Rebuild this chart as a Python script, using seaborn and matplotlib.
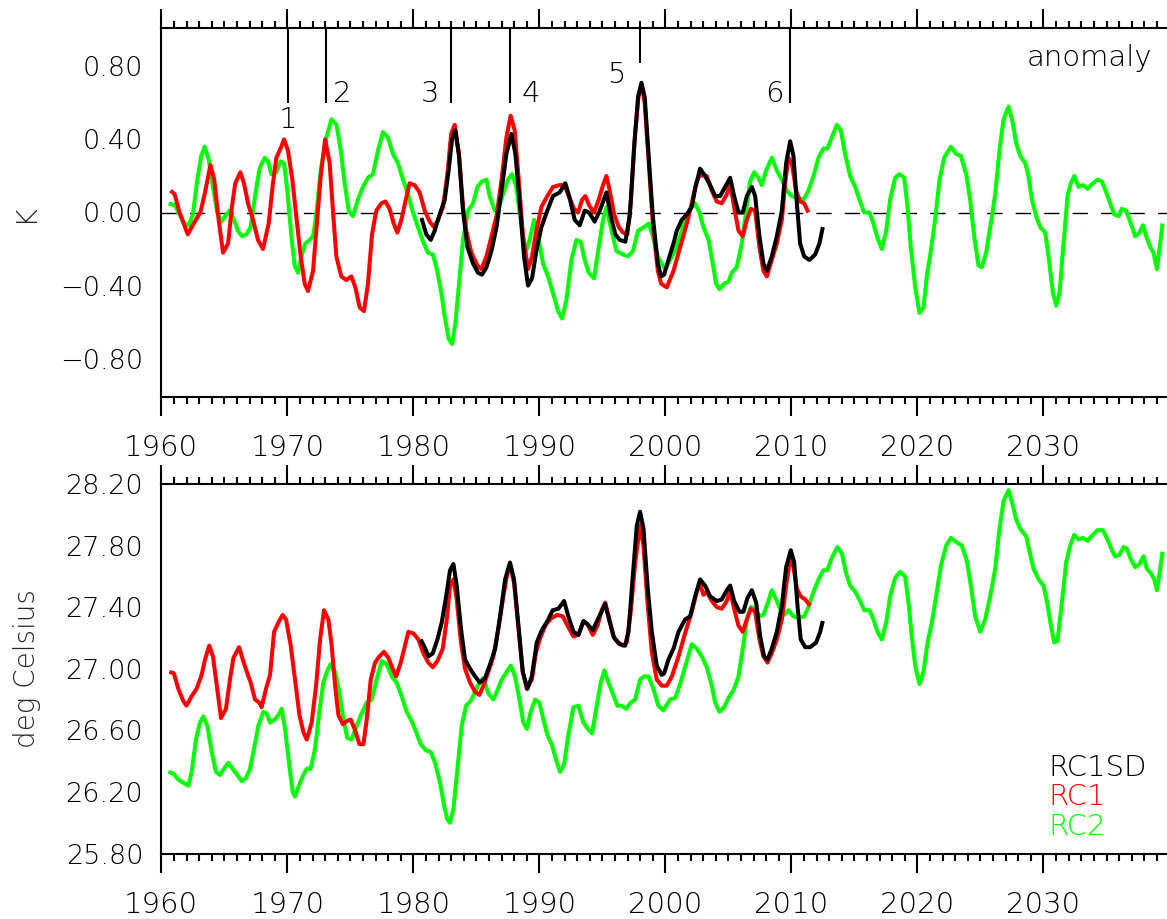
import matplotlib
matplotlib.use("Agg")
import matplotlib.pyplot as plt
import seaborn as sns
import pandas as pd
from matplotlib.ticker import MultipleLocator, FixedLocator, FuncFormatter

# ---------------- data ----------------
# Top panel: anomalies (K)
rc1_top_year = [
    1960.74, 1961.06, 1961.45, 1962.10, 1962.65, 1963.10, 1963.44, 1963.90, 1964.20, 1964.55,
    1964.90, 1965.30, 1965.60, 1965.87, 1966.27, 1966.56, 1966.88, 1967.28, 1967.67, 1968.07,
    1968.52, 1968.86, 1969.13, 1969.52, 1969.74, 1970.05, 1970.40, 1970.71, 1971.06, 1971.38,
    1971.64, 1972.04, 1972.30, 1972.65, 1973.00, 1973.36, 1973.62, 1973.89, 1974.28, 1974.68,
    1975.08, 1975.40, 1975.74, 1976.08, 1976.40, 1976.72, 1977.06, 1977.46, 1977.78, 1978.12,
    1978.44, 1978.73, 1979.05, 1979.40, 1979.70, 1980.10, 1980.50, 1980.90, 1981.30, 1981.64,
    1981.96, 1982.35, 1982.70, 1983.00, 1983.28, 1983.62, 1983.94, 1984.20, 1984.60, 1985.08,
    1985.40, 1985.80, 1986.20, 1986.60, 1987.00, 1987.38, 1987.72, 1988.04, 1988.36, 1988.70,
    1989.10, 1989.42, 1989.76, 1990.16, 1990.63, 1991.08, 1991.61, 1992.00, 1992.33, 1992.75,
    1993.07, 1993.39, 1993.65, 1993.94, 1994.34, 1994.71, 1995.05, 1995.32, 1995.58, 1995.93,
    1996.30, 1996.64, 1996.98, 1997.25, 1997.57, 1997.88, 1998.10, 1998.36, 1998.68, 1999.00,
    1999.40, 1999.66, 2000.11, 2000.64, 2001.17, 2001.70, 2002.09, 2002.44, 2002.75, 2003.02,
    2003.28, 2003.68, 2004.08, 2004.47, 2004.87, 2005.14, 2005.45, 2005.80, 2006.14, 2006.46,
    2006.78, 2007.12, 2007.46, 2007.78, 2008.05, 2008.44, 2008.84, 2009.24, 2009.50, 2009.76,
    2010.03, 2010.37, 2010.69, 2011.01, 2011.35]
rc1_top = [
    0.12, 0.10, 0.00, -0.12, -0.05, 0.00, 0.10, 0.26, 0.18, -0.04,
    -0.22, -0.17, 0.03, 0.16, 0.22, 0.16, 0.05, -0.04, -0.15, -0.20,
    -0.06, 0.16, 0.30, 0.36, 0.40, 0.34, 0.18, -0.02, -0.24, -0.39,
    -0.43, -0.32, -0.10, 0.20, 0.40, 0.27, 0.01, -0.24, -0.35, -0.37,
    -0.35, -0.41, -0.52, -0.54, -0.39, -0.12, 0.01, 0.05, 0.06, 0.02,
    -0.06, -0.11, -0.04, 0.07, 0.16, 0.15, 0.11, 0.01, -0.05, -0.08,
    -0.04, 0.03, 0.21, 0.43, 0.48, 0.32, 0.03, -0.10, -0.22, -0.29,
    -0.31, -0.24, -0.13, -0.02, 0.18, 0.41, 0.53, 0.45, 0.18, -0.13,
    -0.31, -0.24, -0.10, 0.03, 0.09, 0.14, 0.15, 0.15, 0.09, 0.02,
    0.00, 0.07, 0.09, 0.04, 0.00, 0.07, 0.15, 0.20, 0.12, -0.01,
    -0.08, -0.11, -0.12, 0.05, 0.41, 0.65, 0.70, 0.60, 0.27, -0.06,
    -0.32, -0.39, -0.41, -0.32, -0.19, -0.06, 0.05, 0.16, 0.21, 0.20,
    0.20, 0.12, 0.06, 0.05, 0.10, 0.16, 0.03, -0.10, -0.13, -0.04,
    0.02, 0.01, -0.19, -0.32, -0.35, -0.26, -0.17, -0.04, 0.16, 0.30,
    0.27, 0.12, 0.06, 0.05, 0.00]

rc1sd_top_year = [
    1980.64, 1981.03, 1981.38, 1981.69, 1982.09, 1982.49, 1982.80, 1983.07, 1983.33, 1983.62,
    1983.94, 1984.29, 1984.74, 1985.13, 1985.45, 1985.80, 1986.20, 1986.60, 1987.00, 1987.38,
    1987.78, 1988.10, 1988.44, 1988.78, 1989.10, 1989.42, 1989.76, 1990.16, 1990.63, 1991.08,
    1991.61, 1992.06, 1992.40, 1992.80, 1993.20, 1993.60, 1993.94, 1994.39, 1994.79, 1995.32,
    1995.66, 1996.03, 1996.37, 1996.82, 1997.17, 1997.52, 1997.83, 1998.10, 1998.36, 1998.68,
    1999.00, 1999.40, 1999.66, 1999.90, 2000.24, 2000.64, 2000.90, 2001.30, 2001.70, 2002.09,
    2002.36, 2002.75, 2003.15, 2003.55, 2003.95, 2004.34, 2004.74, 2005.14, 2005.45, 2005.80,
    2006.14, 2006.46, 2006.86, 2007.12, 2007.46, 2007.78, 2008.05, 2008.44, 2008.84, 2009.24,
    2009.58, 2009.90, 2010.16, 2010.43, 2010.69, 2011.01, 2011.43, 2011.88, 2012.22, 2012.49]
rc1sd_top = [
    -0.03, -0.12, -0.15, -0.10, -0.01, 0.07, 0.23, 0.40, 0.45, 0.31,
    0.01, -0.19, -0.28, -0.33, -0.34, -0.30, -0.21, -0.08, 0.12, 0.32,
    0.43, 0.32, 0.05, -0.24, -0.40, -0.36, -0.21, -0.08, 0.01, 0.09,
    0.11, 0.16, 0.08, -0.04, -0.07, 0.01, 0.00, -0.05, 0.01, 0.11,
    -0.02, -0.12, -0.15, -0.16, -0.02, 0.36, 0.63, 0.71, 0.63, 0.30,
    -0.02, -0.28, -0.35, -0.34, -0.26, -0.17, -0.10, -0.04, -0.01, 0.03,
    0.13, 0.24, 0.20, 0.15, 0.09, 0.09, 0.14, 0.19, 0.09, 0.00,
    0.00, 0.09, 0.14, 0.09, -0.13, -0.28, -0.32, -0.24, -0.13, 0.01,
    0.27, 0.39, 0.31, 0.05, -0.17, -0.24, -0.26, -0.23, -0.17, -0.08]

rc2_top_year = [
    1960.58, 1961.06, 1961.45, 1961.85, 1962.17, 1962.51, 1962.86, 1963.17, 1963.44, 1963.76,
    1964.10, 1964.44, 1964.76, 1965.08, 1965.42, 1965.77, 1966.08, 1966.40, 1966.75, 1967.09,
    1967.46, 1967.80, 1968.20, 1968.47, 1968.73, 1969.13, 1969.47, 1969.74, 1970.00, 1970.32,
    1970.58, 1970.85, 1971.11, 1971.43, 1971.77, 1972.04, 1972.30, 1972.65, 1973.10, 1973.50,
    1973.90, 1974.24, 1974.55, 1974.87, 1975.21, 1975.60, 1976.00, 1976.40, 1976.80, 1977.20,
    1977.59, 1977.99, 1978.39, 1978.78, 1979.18, 1979.58, 1979.97, 1980.37, 1980.77, 1981.16,
    1981.56, 1981.90, 1982.22, 1982.49, 1982.80, 1983.07, 1983.33, 1983.62, 1983.94, 1984.34,
    1984.74, 1985.08, 1985.45, 1985.80, 1986.06, 1986.46, 1986.77, 1987.12, 1987.51, 1987.83,
    1988.17, 1988.52, 1988.89, 1989.23, 1989.58, 1989.89, 1990.29, 1990.69, 1991.08, 1991.48,
    1991.80, 1992.14, 1992.54, 1992.94, 1993.28, 1993.60, 1993.92, 1994.34, 1994.71, 1995.05,
    1995.32, 1995.66, 1996.11, 1996.64, 1997.04, 1997.43, 1997.83, 1998.30, 1998.68, 1999.00,
    1999.40, 1999.70, 1999.98, 2000.37, 2000.77, 2001.17, 2001.56, 2001.96, 2002.36, 2002.70,
    2003.02, 2003.42, 2003.76, 2004.02, 2004.29, 2004.66, 2005.00, 2005.27, 2005.66, 2006.06,
    2006.41, 2006.72, 2007.04, 2007.38, 2007.65, 2007.99, 2008.44, 2008.84, 2009.24, 2009.63,
    2010.03, 2010.43, 2010.96, 2011.35, 2011.75, 2012.15, 2012.54, 2012.86, 2013.20, 2013.60,
    2013.92, 2014.26, 2014.66, 2015.06, 2015.40, 2015.77, 2016.20, 2016.51, 2016.83, 2017.17,
    2017.52, 2017.83, 2018.23, 2018.57, 2018.95, 2019.21, 2019.47, 2019.82, 2020.16, 2020.48,
    2020.74, 2021.06, 2021.40, 2021.75, 2022.12, 2022.65, 2023.07, 2023.44, 2023.87, 2024.18,
    2024.50, 2024.84, 2025.11, 2025.45, 2025.82, 2026.17, 2026.51, 2026.83, 2027.23, 2027.57,
    2027.83, 2028.15, 2028.55, 2028.81, 2029.08, 2029.42, 2029.74, 2030.14, 2030.40, 2030.75,
    2031.01, 2031.27, 2031.59, 2031.91, 2032.17, 2032.44, 2032.78, 2033.13, 2033.50, 2033.92,
    2034.29, 2034.63, 2034.98, 2035.30, 2035.61, 2035.95, 2036.22, 2036.56, 2036.88, 2037.28,
    2037.62, 2037.89, 2038.15, 2038.47, 2038.73, 2039.00, 2039.26, 2039.45]
rc2_top = [
    0.05, 0.04, -0.01, -0.06, -0.07, -0.01, 0.18, 0.31, 0.36, 0.29,
    0.14, 0.00, -0.05, -0.02, 0.01, -0.04, -0.10, -0.13, -0.12, -0.08,
    0.10, 0.24, 0.30, 0.28, 0.21, 0.22, 0.28, 0.27, 0.12, -0.13,
    -0.29, -0.33, -0.24, -0.17, -0.15, -0.13, -0.01, 0.23, 0.41, 0.51,
    0.48, 0.34, 0.16, 0.01, -0.02, 0.07, 0.14, 0.19, 0.21, 0.34,
    0.44, 0.41, 0.32, 0.27, 0.18, 0.10, 0.00, -0.08, -0.16, -0.22,
    -0.23, -0.32, -0.44, -0.57, -0.69, -0.72, -0.61, -0.39, -0.15, 0.01,
    0.05, 0.14, 0.17, 0.18, 0.09, 0.01, 0.03, 0.10, 0.18, 0.21,
    0.14, -0.04, -0.22, -0.15, -0.04, -0.13, -0.28, -0.35, -0.44, -0.54,
    -0.58, -0.48, -0.26, -0.15, -0.16, -0.26, -0.33, -0.36, -0.19, -0.04,
    0.03, -0.08, -0.21, -0.23, -0.24, -0.21, -0.10, -0.08, -0.06, -0.13,
    -0.24, -0.28, -0.31, -0.26, -0.21, -0.13, -0.04, 0.02, 0.05, 0.00,
    -0.08, -0.15, -0.28, -0.39, -0.42, -0.39, -0.38, -0.33, -0.30, -0.17,
    0.01, 0.17, 0.22, 0.19, 0.15, 0.23, 0.30, 0.23, 0.18, 0.12,
    0.09, 0.08, 0.07, 0.12, 0.20, 0.30, 0.35, 0.35, 0.41, 0.48,
    0.45, 0.32, 0.20, 0.14, 0.07, 0.00, 0.00, -0.06, -0.14, -0.20,
    -0.10, 0.07, 0.19, 0.21, 0.19, 0.03, -0.19, -0.41, -0.55, -0.52,
    -0.35, -0.21, -0.04, 0.18, 0.30, 0.36, 0.32, 0.31, 0.21, 0.07,
    -0.13, -0.29, -0.30, -0.22, -0.06, 0.10, 0.34, 0.51, 0.58, 0.49,
    0.38, 0.31, 0.27, 0.20, 0.07, -0.02, -0.08, -0.11, -0.24, -0.44,
    -0.51, -0.44, -0.17, 0.09, 0.16, 0.20, 0.14, 0.15, 0.13, 0.16,
    0.18, 0.17, 0.11, 0.05, -0.01, -0.02, 0.02, 0.01, -0.05, -0.13,
    -0.11, -0.07, -0.13, -0.19, -0.22, -0.31, -0.17, -0.06]

# Bottom panel: absolute values (deg Celsius)
rc1_bot_year = [
    1960.64, 1961.00, 1961.35, 1961.75, 1962.00, 1962.40, 1962.80, 1963.20, 1963.47, 1963.80,
    1964.10, 1964.40, 1964.74, 1965.13, 1965.45, 1965.72, 1966.17, 1966.50, 1966.83, 1967.09,
    1967.44, 1967.78, 1967.96, 1968.31, 1968.63, 1968.95, 1969.29, 1969.63, 1969.90, 1970.27,
    1970.61, 1970.96, 1971.27, 1971.54, 1971.93, 1972.28, 1972.60, 1972.91, 1973.26, 1973.52,
    1973.79, 1974.05, 1974.40, 1974.71, 1975.03, 1975.38, 1975.72, 1976.04, 1976.30, 1976.62,
    1976.96, 1977.30, 1977.67, 1978.02, 1978.36, 1978.63, 1979.00, 1979.34, 1979.61, 1980.00,
    1980.40, 1980.80, 1981.19, 1981.54, 1981.91, 1982.33, 1982.65, 1982.91, 1983.18, 1983.44,
    1983.78, 1984.10, 1984.50, 1984.90, 1985.24, 1985.56, 1985.95, 1986.35, 1986.75, 1987.14,
    1987.46, 1987.67, 1987.99, 1988.34, 1988.68, 1989.00, 1989.40, 1989.74, 1990.06, 1990.53,
    1990.98, 1991.43, 1991.86, 1992.23, 1992.70, 1993.10, 1993.50, 1993.81, 1994.24, 1994.61,
    1994.95, 1995.22, 1995.56, 1995.88, 1996.27, 1996.67, 1996.93, 1997.25, 1997.60, 1997.99,
    1998.26, 1998.58, 1998.92, 1999.31, 1999.71, 2000.11, 2000.51, 2001.04, 2001.56, 2002.09,
    2002.49, 2002.75, 2003.02, 2003.28, 2003.68, 2004.08, 2004.47, 2004.87, 2005.14, 2005.45,
    2005.80, 2006.14, 2006.46, 2006.78, 2007.12, 2007.46, 2007.78, 2008.10, 2008.44, 2008.84,
    2009.24, 2009.58, 2009.90, 2010.16, 2010.43, 2010.74, 2011.09, 2011.48]
rc1_bot = [
    26.98, 26.97, 26.87, 26.79, 26.76, 26.82, 26.87, 26.96, 27.06, 27.15,
    27.08, 26.89, 26.68, 26.74, 26.93, 27.07, 27.14, 27.05, 26.97, 26.91,
    26.80, 26.78, 26.75, 26.87, 26.96, 27.24, 27.30, 27.35, 27.32, 27.15,
    26.93, 26.70, 26.59, 26.54, 26.65, 26.89, 27.19, 27.38, 27.32, 27.15,
    26.89, 26.70, 26.64, 26.66, 26.67, 26.60, 26.51, 26.51, 26.67, 26.93,
    27.04, 27.08, 27.11, 27.07, 27.00, 26.95, 27.04, 27.15, 27.24, 27.23,
    27.19, 27.10, 27.04, 27.01, 27.05, 27.13, 27.32, 27.54, 27.58, 27.45,
    27.17, 27.00, 26.91, 26.85, 26.83, 26.89, 26.98, 27.08, 27.26, 27.47,
    27.62, 27.67, 27.56, 27.26, 26.98, 26.87, 26.93, 27.11, 27.20, 27.29,
    27.33, 27.35, 27.34, 27.28, 27.21, 27.22, 27.31, 27.29, 27.22, 27.28,
    27.38, 27.43, 27.32, 27.21, 27.17, 27.15, 27.17, 27.37, 27.69, 27.93,
    27.80, 27.43, 27.11, 26.93, 26.89, 26.89, 26.95, 27.08, 27.23, 27.37,
    27.50, 27.55, 27.48, 27.50, 27.44, 27.40, 27.39, 27.44, 27.51, 27.39,
    27.28, 27.24, 27.32, 27.39, 27.37, 27.19, 27.08, 27.04, 27.10, 27.19,
    27.32, 27.54, 27.72, 27.66, 27.52, 27.47, 27.45, 27.41]

rc1sd_bot_year = [
    1980.58, 1980.95, 1981.19, 1981.54, 1981.91, 1982.25, 1982.60, 1982.91, 1983.18, 1983.44,
    1983.78, 1984.10, 1984.50, 1984.90, 1985.29, 1985.69, 1986.09, 1986.49, 1986.88, 1987.28,
    1987.67, 1987.99, 1988.34, 1988.68, 1989.05, 1989.40, 1989.79, 1990.19, 1990.64, 1991.06,
    1991.51, 1991.96, 1992.30, 1992.70, 1993.10, 1993.50, 1993.81, 1994.24, 1994.69, 1995.22,
    1995.56, 1995.93, 1996.35, 1996.80, 1997.07, 1997.41, 1997.73, 1997.99, 1998.26, 1998.58,
    1998.92, 1999.31, 1999.71, 1999.90, 2000.24, 2000.64, 2001.04, 2001.56, 2001.96, 2002.36,
    2002.75, 2003.15, 2003.55, 2004.08, 2004.47, 2004.87, 2005.14, 2005.45, 2005.88, 2006.19,
    2006.51, 2006.86, 2007.20, 2007.52, 2007.83, 2008.10, 2008.44, 2008.84, 2009.24, 2009.58,
    2009.95, 2010.22, 2010.48, 2010.74, 2011.09, 2011.48, 2011.96, 2012.28, 2012.49]
rc1sd_bot = [
    27.19, 27.13, 27.08, 27.10, 27.19, 27.30, 27.47, 27.64, 27.68, 27.54,
    27.26, 27.06, 27.00, 26.95, 26.91, 26.94, 27.03, 27.13, 27.34, 27.58,
    27.69, 27.58, 27.28, 26.98, 26.87, 26.95, 27.17, 27.25, 27.31, 27.38,
    27.39, 27.44, 27.34, 27.24, 27.22, 27.31, 27.29, 27.25, 27.33, 27.42,
    27.31, 27.20, 27.16, 27.15, 27.24, 27.60, 27.93, 28.02, 27.91, 27.54,
    27.24, 27.02, 26.96, 26.97, 27.06, 27.13, 27.24, 27.32, 27.34, 27.47,
    27.58, 27.54, 27.47, 27.44, 27.45, 27.51, 27.54, 27.44, 27.37, 27.37,
    27.46, 27.51, 27.43, 27.21, 27.08, 27.06, 27.13, 27.24, 27.41, 27.66,
    27.77, 27.69, 27.41, 27.19, 27.14, 27.14, 27.17, 27.24, 27.31]

rc2_bot_year = [
    1960.56, 1960.95, 1961.35, 1961.75, 1962.15, 1962.41, 1962.75, 1963.07, 1963.33, 1963.65,
    1964.00, 1964.34, 1964.66, 1964.98, 1965.32, 1965.66, 1966.03, 1966.38, 1966.72, 1967.04,
    1967.36, 1967.70, 1968.10, 1968.36, 1968.63, 1969.02, 1969.37, 1969.55, 1969.82, 1970.16,
    1970.43, 1970.61, 1970.96, 1971.27, 1971.54, 1971.85, 1972.20, 1972.54, 1972.86, 1973.18,
    1973.44, 1973.78, 1974.13, 1974.45, 1974.76, 1975.10, 1975.50, 1975.90, 1976.30, 1976.70,
    1977.09, 1977.49, 1977.89, 1978.28, 1978.68, 1979.08, 1979.47, 1979.87, 1980.21, 1980.58,
    1981.00, 1981.38, 1981.72, 1982.12, 1982.44, 1982.70, 1982.91, 1983.18, 1983.52, 1983.84,
    1984.18, 1984.55, 1984.90, 1985.24, 1985.56, 1985.95, 1986.35, 1986.67, 1987.01, 1987.41,
    1987.73, 1988.07, 1988.42, 1988.73, 1989.00, 1989.31, 1989.66, 1990.00, 1990.32, 1990.64,
    1990.98, 1991.32, 1991.64, 1991.96, 1992.30, 1992.70, 1993.10, 1993.50, 1993.84, 1994.18,
    1994.55, 1994.87, 1995.16, 1995.48, 1995.82, 1996.19, 1996.54, 1996.88, 1997.25, 1997.60,
    1997.99, 1998.31, 1998.65, 1999.05, 1999.44, 1999.84, 2000.37, 2000.77, 2001.17, 2001.56,
    2002.09, 2002.49, 2002.89, 2003.28, 2003.68, 2003.95, 2004.29, 2004.66, 2005.00, 2005.40,
    2005.80, 2006.14, 2006.46, 2006.78, 2007.12, 2007.46, 2007.78, 2008.18, 2008.44, 2008.79,
    2009.10, 2009.42, 2009.77, 2010.16, 2010.56, 2011.01, 2011.35, 2011.75, 2012.15, 2012.54,
    2012.86, 2013.20, 2013.65, 2014.00, 2014.34, 2014.66, 2015.06, 2015.45, 2015.77, 2016.20,
    2016.51, 2016.83, 2017.17, 2017.52, 2017.83, 2018.23, 2018.63, 2019.02, 2019.29, 2019.55,
    2019.82, 2020.16, 2020.48, 2020.80, 2021.14, 2021.48, 2021.86, 2022.28, 2022.65, 2023.13,
    2023.52, 2023.92, 2024.24, 2024.58, 2024.98, 2025.37, 2025.77, 2026.17, 2026.51, 2026.83,
    2027.23, 2027.57, 2027.83, 2028.15, 2028.63, 2028.95, 2029.21, 2029.61, 2030.00, 2030.27,
    2030.59, 2030.85, 2031.11, 2031.46, 2031.80, 2032.12, 2032.44, 2032.78, 2033.13, 2033.50,
    2033.92, 2034.29, 2034.71, 2035.08, 2035.43, 2035.69, 2036.03, 2036.35, 2036.62, 2036.93,
    2037.28, 2037.62, 2037.94, 2038.20, 2038.52, 2038.79, 2039.00, 2039.21, 2039.45]
rc2_bot = [
    26.33, 26.32, 26.28, 26.26, 26.24, 26.33, 26.54, 26.65, 26.69, 26.63,
    26.46, 26.33, 26.31, 26.35, 26.39, 26.35, 26.31, 26.27, 26.29, 26.35,
    26.48, 26.63, 26.72, 26.71, 26.65, 26.67, 26.71, 26.74, 26.61, 26.37,
    26.20, 26.17, 26.25, 26.31, 26.35, 26.35, 26.48, 26.72, 26.91, 26.99,
    27.03, 26.98, 26.85, 26.67, 26.55, 26.54, 26.63, 26.71, 26.78, 26.80,
    26.93, 27.05, 27.03, 26.95, 26.91, 26.82, 26.72, 26.66, 26.59, 26.51,
    26.47, 26.46, 26.39, 26.26, 26.11, 26.02, 26.00, 26.09, 26.37, 26.63,
    26.76, 26.79, 26.85, 26.91, 26.94, 26.84, 26.80, 26.86, 26.93, 26.98,
    27.02, 26.95, 26.80, 26.65, 26.61, 26.72, 26.80, 26.78, 26.67, 26.57,
    26.51, 26.41, 26.33, 26.38, 26.57, 26.75, 26.76, 26.65, 26.61, 26.58,
    26.76, 26.91, 26.99, 26.91, 26.84, 26.76, 26.76, 26.74, 26.78, 26.80,
    26.93, 26.95, 26.95, 26.87, 26.76, 26.73, 26.80, 26.81, 26.90, 27.01,
    27.16, 27.13, 27.08, 27.01, 26.89, 26.78, 26.72, 26.75, 26.81, 26.86,
    26.95, 27.13, 27.32, 27.40, 27.39, 27.34, 27.35, 27.44, 27.51, 27.45,
    27.39, 27.35, 27.38, 27.34, 27.33, 27.34, 27.40, 27.50, 27.58, 27.64,
    27.64, 27.72, 27.79, 27.75, 27.62, 27.54, 27.50, 27.44, 27.38, 27.38,
    27.32, 27.24, 27.19, 27.30, 27.47, 27.59, 27.63, 27.60, 27.43, 27.21,
    27.02, 26.90, 26.98, 27.17, 27.30, 27.47, 27.67, 27.80, 27.85, 27.82,
    27.80, 27.70, 27.54, 27.34, 27.24, 27.32, 27.47, 27.65, 27.91, 28.09,
    28.16, 28.06, 27.97, 27.91, 27.86, 27.74, 27.65, 27.58, 27.54, 27.44,
    27.28, 27.17, 27.18, 27.43, 27.69, 27.80, 27.87, 27.84, 27.85, 27.83,
    27.87, 27.90, 27.90, 27.84, 27.77, 27.73, 27.74, 27.79, 27.78, 27.71,
    27.66, 27.68, 27.73, 27.65, 27.62, 27.58, 27.51, 27.62, 27.76]

# Event markers (top panel)
event_labels = ["1", "2", "3", "4", "5", "6"]
event_years = [1970.05, 1973.07, 1982.99, 1987.68, 1998.00, 2009.90]
event_line_bottom = [0.60, 0.60, 0.60, 0.60, 0.82, 0.60]
event_text_x = [1970.05, 1974.38, 1981.36, 1989.30, 1996.13, 2008.67]
event_text_y = [0.462, 0.604, 0.604, 0.604, 0.708, 0.604]

top_yticks = [-0.80, -0.40, 0.00, 0.40, 0.80]
bot_yticks = [25.80, 26.20, 26.60, 27.00, 27.40, 27.80, 28.20]
series_names = ["RC1SD", "RC1", "RC2"]
series_colors = ["#000000", "#FF0000", "#00FF00"]

# ---------------- figure ----------------
sns.set_style("white")
plt.rcParams['font.family'] = ['DejaVu Sans']
plt.rcParams['font.weight'] = 'light'
plt.rcParams['axes.labelweight'] = 'light'
plt.rcParams['text.color'] = 'black'

W, H = 1167.0, 919.0
fig = plt.figure(figsize=(W / 100, H / 100), dpi=100)
x0 = 161.3 / W
ax1 = fig.add_axes([x0, 1 - 397 / H, 1 - x0, (397 - 28) / H])
ax2 = fig.add_axes([x0, 1 - 853.5 / H, 1 - x0, (853.5 - 484) / H])

LW = 2.9
def draw(ax, xs, ys, color, z):
    df = pd.DataFrame({"year": xs, "value": ys})
    sns.lineplot(data=df, x="year", y="value", ax=ax, color=color, linewidth=LW,
                 estimator=None, sort=False, zorder=z,
                 solid_joinstyle='round', solid_capstyle='butt')

draw(ax1, rc2_top_year, rc2_top, series_colors[2], 3)
draw(ax1, rc1_top_year, rc1_top, series_colors[1], 4)
draw(ax1, rc1sd_top_year, rc1sd_top, series_colors[0], 5)
draw(ax2, rc2_bot_year, rc2_bot, series_colors[2], 3)
draw(ax2, rc1_bot_year, rc1_bot, series_colors[1], 4)
draw(ax2, rc1sd_bot_year, rc1sd_bot, series_colors[0], 5)

ax1.axhline(0, color='black', lw=1.0, dashes=(11, 9.5), zorder=2)

ax1.set_ylim(-1.01, 1.01)
ax2.set_ylim(25.8, 28.2)
ax1.yaxis.set_major_locator(FixedLocator(top_yticks))
ax2.yaxis.set_major_locator(FixedLocator(bot_yticks))
fmt = FuncFormatter(lambda v, p: ("%.2f" % v).replace("-", "\u2212"))
ax1.yaxis.set_major_formatter(fmt)
ax2.yaxis.set_major_formatter(fmt)

for ax in (ax1, ax2):
    ax.set_xlim(1960, 2039.8)
    ax.xaxis.set_major_locator(MultipleLocator(10))
    ax.xaxis.set_minor_locator(MultipleLocator(1))
    ax.tick_params(axis='x', which='both', direction='out', top=True, bottom=True,
                   labeltop=False, labelbottom=True, width=1.5, color='black')
    ax.tick_params(axis='x', which='major', length=13.7, pad=13, labelsize=21,
                   labelcolor='black')
    ax.tick_params(axis='x', which='minor', length=5)
    ax.tick_params(axis='y', which='both', left=False, right=False, length=0, pad=13,
                   labelsize=19.5, labelcolor='black')
    for s in ('left', 'top', 'bottom'):
        ax.spines[s].set_visible(True)
        ax.spines[s].set_linewidth(1.5)
        ax.spines[s].set_color('black')
    ax.spines['right'].set_visible(False)
    ax.set_xlabel('')
    ax.grid(False)

ax1.set_ylabel('K', fontsize=21, fontweight='light')
ax2.set_ylabel('deg Celsius', fontsize=20, fontweight='light')
ax1.yaxis.set_label_coords(-0.122, 0.5)
ax2.yaxis.set_label_coords(-0.120, 0.5)

# event markers
ax1.vlines(event_years, event_line_bottom, [1.01] * len(event_years), color='black',
           lw=1.5, zorder=6)
for lab, tx, ty in zip(event_labels, event_text_x, event_text_y):
    ax1.text(tx, ty, lab, ha='center', va='baseline', fontsize=21)

ax1.text(2038.63, 0.80, 'anomaly', ha='right', va='baseline', fontsize=21)

legend_y = [26.306, 26.112, 25.917]
for name, col, ly in zip(series_names, series_colors, legend_y):
    ax2.text(2030.37, ly, name, color=col, ha='left', va='baseline', fontsize=21)

fig.savefig('out.png', dpi=100)
